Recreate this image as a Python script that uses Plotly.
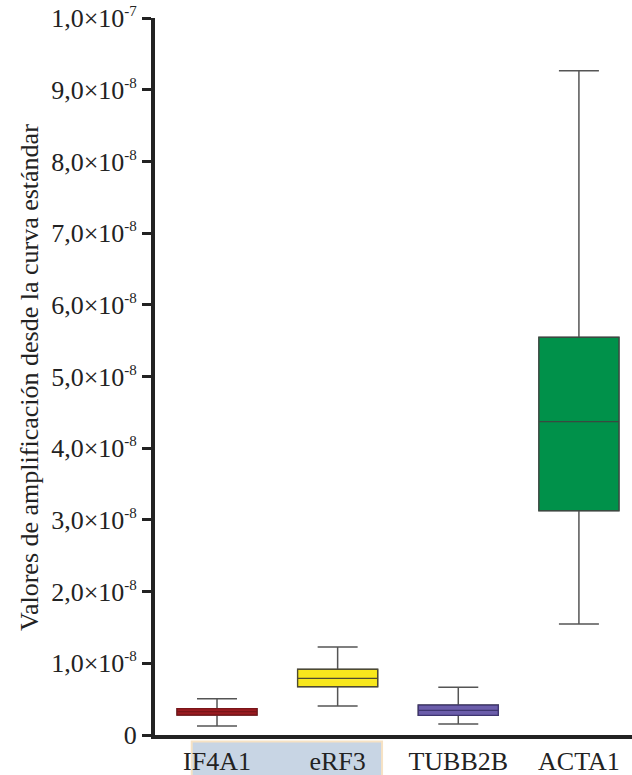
import plotly.graph_objects as go

# Box summary statistics per gene (values in arbitrary amplification units)
genes = ["IF4A1", "eRF3", "TUBB2B", "ACTA1"]
lower_whisker = [1.26e-9, 4.04e-9, 1.53e-9, 1.548e-8]
q1_values = [2.79e-9, 6.74e-9, 2.74e-9, 3.128e-8]
median_values = [3.25e-9, 7.91e-9, 3.44e-9, 4.37e-8]
q3_values = [3.67e-9, 9.16e-9, 4.18e-9, 5.547e-8]
upper_whisker = [5.06e-9, 1.227e-8, 6.65e-9, 9.265e-8]
fill_colors = ["#9A1B20", "#F8E71C", "#6B5DAA", "#00914A"]
edge_colors = ["#7A1418", "#4E4A30", "#3E3570", "#3A4A40"]

tick_vals = [i * 1e-8 for i in range(11)]
tick_mantissas = ["0"] + [f"{i},0×10" for i in range(1, 10)] + ["1,0×10"]
tick_exponents = [""] + ["-8"] * 9 + ["-7"]
y_title = "Valores de amplificación desde la curva estándar"

FONT = "Liberation Serif"
INK = "#222222"
WHISKER = "#555555"
BOX_W = 0.663


def sci_label(mantissa, exponent):
    if not exponent:
        return mantissa
    return f"{mantissa}<sup><span style='font-size:15px'>{exponent}</span></sup>"


tick_text = [sci_label(m, e) for m, e in zip(tick_mantissas, tick_exponents)]

fig = go.Figure()
for i, g in enumerate(genes):
    # whiskers and caps in grey
    fig.add_trace(go.Box(
        x=[g],
        q1=[q1_values[i]],
        median=[median_values[i]],
        q3=[q3_values[i]],
        lowerfence=[lower_whisker[i]],
        upperfence=[upper_whisker[i]],
        fillcolor=fill_colors[i],
        line=dict(color=WHISKER, width=1.5),
        width=BOX_W,
        whiskerwidth=0.5,
        boxpoints=False,
        hoverinfo="skip",
        showlegend=False,
    ))
    # coloured box body with its own outline and median
    fig.add_trace(go.Box(
        x=[g],
        q1=[q1_values[i]],
        median=[median_values[i]],
        q3=[q3_values[i]],
        lowerfence=[q1_values[i]],
        upperfence=[q3_values[i]],
        fillcolor=fill_colors[i],
        line=dict(color=edge_colors[i], width=1.3),
        width=BOX_W,
        whiskerwidth=0,
        boxpoints=False,
        hoverinfo="skip",
        showlegend=False,
    ))

fig.update_layout(
    width=632,
    height=775,
    margin=dict(l=155, r=0, t=18, b=40),
    paper_bgcolor="white",
    plot_bgcolor="white",
    font=dict(family=FONT, color=INK),
    boxmode="overlay",
    xaxis=dict(
        type="category",
        categoryorder="array",
        categoryarray=genes,
        range=[-0.514, 3.44],
        showgrid=False,
        zeroline=False,
        showline=True,
        linecolor=INK,
        linewidth=4,
        ticks="",
        tickfont=dict(family=FONT, size=26, color=INK),
        fixedrange=True,
    ),
    yaxis=dict(
        range=[0, 1e-7],
        tickvals=tick_vals,
        ticktext=tick_text,
        showgrid=False,
        zeroline=False,
        showline=True,
        linecolor=INK,
        linewidth=4,
        ticks="outside",
        ticklen=9,
        tickwidth=3,
        tickcolor=INK,
        tickfont=dict(family=FONT, size=26, color=INK),
        fixedrange=True,
    ),
    annotations=[
        dict(
            text=y_title, textangle=-90,
            xref="paper", yref="paper",
            x=-0.262, y=0.498, xanchor="center", yanchor="middle",
            showarrow=False,
            font=dict(family=FONT, size=26, color=INK),
        )
    ],
    shapes=[
        dict(
            type="rect", xref="paper", yref="paper",
            x0=0.077, x1=0.476, y0=-0.009, y1=-0.06,
            fillcolor="#C8D5E4", line=dict(color="#F6E2C4", width=2),
            layer="below",
        )
    ],
)

fig.write_html("out.html")
